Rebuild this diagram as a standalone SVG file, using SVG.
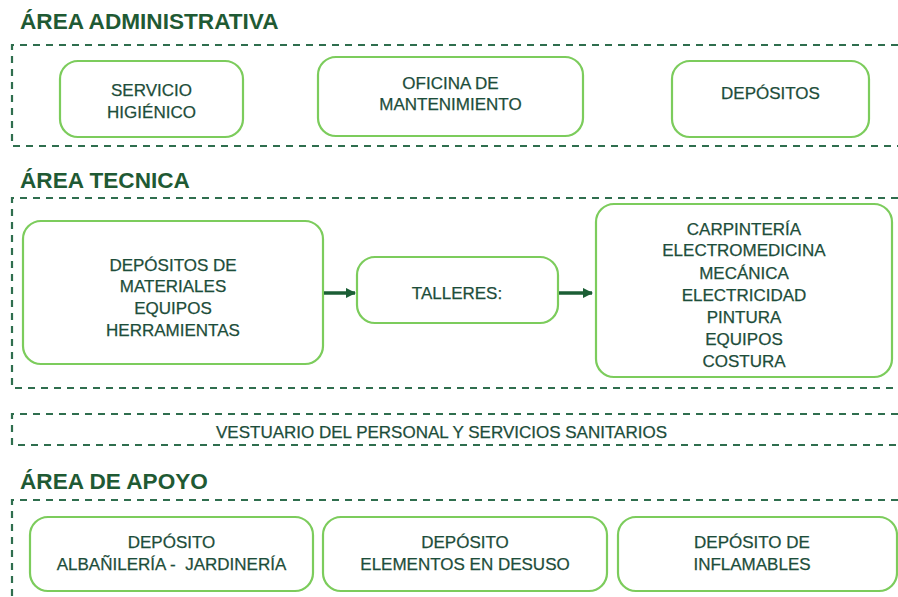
<svg xmlns="http://www.w3.org/2000/svg" width="898" height="597" viewBox="0 0 898 597">
<style>
.bg{fill:#ffffff}
.title{font-family:"Liberation Sans",Arial,sans-serif;font-weight:bold;font-size:22.6px;fill:#1f5a34}
.zone{fill:none;stroke:#2f6e4e;stroke-width:2.2;stroke-dasharray:7 6}
.node{fill:#ffffff;stroke:#7ccc5c;stroke-width:2.2}
.lbl{font-family:"Liberation Sans",Arial,sans-serif;font-size:17px;fill:#1d4d3a;text-anchor:middle;stroke:#1d4d3a;stroke-width:0.25}
.edge{stroke:#1b5e35;stroke-width:3.5;fill:none}
</style>
<defs>
<marker id="arr" viewBox="0 0 10 10" refX="9" refY="5" markerWidth="3" markerHeight="3" orient="auto" markerUnits="strokeWidth">
<path d="M0,0 L10,5 L0,10 Z" fill="#1b5e35"/>
</marker>
</defs>
<rect class="bg" x="0" y="0" width="898" height="597"/>

<g id="zones">
<text class="title" x="20" y="29">ÁREA ADMINISTRATIVA</text>
<path class="zone" d="M898,45 H12 V146 H898"/>
<text class="title" x="20" y="188">ÁREA TECNICA</text>
<path class="zone" d="M898,198 H12 V388 H898"/>
<path class="zone" d="M898,414 H12 V445 H898"/>
<text class="title" x="20" y="489">ÁREA DE APOYO</text>
<path class="zone" d="M898,500 H12 V597"/>
</g>

<g id="n-servicio">
<rect class="node" x="60" y="61" width="183" height="76" rx="18"/>
<text class="lbl" x="151.5" y="96">SERVICIO</text>
<text class="lbl" x="151.5" y="118">HIGIÉNICO</text>
</g>
<g id="n-oficina">
<rect class="node" x="318" y="57" width="265" height="79" rx="18"/>
<text class="lbl" x="450.5" y="89">OFICINA DE</text>
<text class="lbl" x="450.5" y="110">MANTENIMIENTO</text>
</g>
<g id="n-depositos">
<rect class="node" x="672" y="61" width="197" height="76" rx="18"/>
<text class="lbl" x="770.5" y="99">DEPÓSITOS</text>
</g>

<g id="n-materiales">
<rect class="node" x="23" y="221" width="300" height="143" rx="18"/>
<text class="lbl" x="173" y="271">DEPÓSITOS DE</text>
<text class="lbl" x="173" y="292">MATERIALES</text>
<text class="lbl" x="173" y="314">EQUIPOS</text>
<text class="lbl" x="173" y="336">HERRAMIENTAS</text>
</g>
<g id="n-talleres">
<rect class="node" x="357" y="257" width="201" height="66" rx="18"/>
<text class="lbl" x="457" y="299">TALLERES:</text>
</g>
<g id="n-lista">
<rect class="node" x="596" y="204" width="296" height="173" rx="18"/>
<text class="lbl" x="744" y="235">CARPINTERÍA</text>
<text class="lbl" x="744" y="256">ELECTROMEDICINA</text>
<text class="lbl" x="744" y="279">MECÁNICA</text>
<text class="lbl" x="744" y="301">ELECTRICIDAD</text>
<text class="lbl" x="744" y="323">PINTURA</text>
<text class="lbl" x="744" y="345">EQUIPOS</text>
<text class="lbl" x="744" y="367">COSTURA</text>
</g>

<g id="n-vestuario">
<text class="lbl" x="441.5" y="438">VESTUARIO DEL PERSONAL Y SERVICIOS SANITARIOS</text>
</g>

<g id="n-albanileria">
<rect class="node" x="30" y="517" width="283" height="74" rx="18"/>
<text class="lbl" x="171.5" y="548">DEPÓSITO</text>
<text class="lbl" x="171.5" y="570">ALBAÑILERÍA -&#160; JARDINERÍA</text>
</g>
<g id="n-desuso">
<rect class="node" x="323" y="517" width="284" height="74" rx="18"/>
<text class="lbl" x="465" y="548">DEPÓSITO</text>
<text class="lbl" x="465" y="570">ELEMENTOS EN DESUSO</text>
</g>
<g id="n-inflamables">
<rect class="node" x="618" y="517" width="279" height="74" rx="18"/>
<text class="lbl" x="752" y="548">DEPÓSITO DE</text>
<text class="lbl" x="752" y="570">INFLAMABLES</text>
</g>

<g id="connectors">
<line class="edge" x1="324" y1="293" x2="355" y2="293" marker-end="url(#arr)"/>
<line class="edge" x1="559" y1="293" x2="592" y2="293" marker-end="url(#arr)"/>
</g>
</svg>
